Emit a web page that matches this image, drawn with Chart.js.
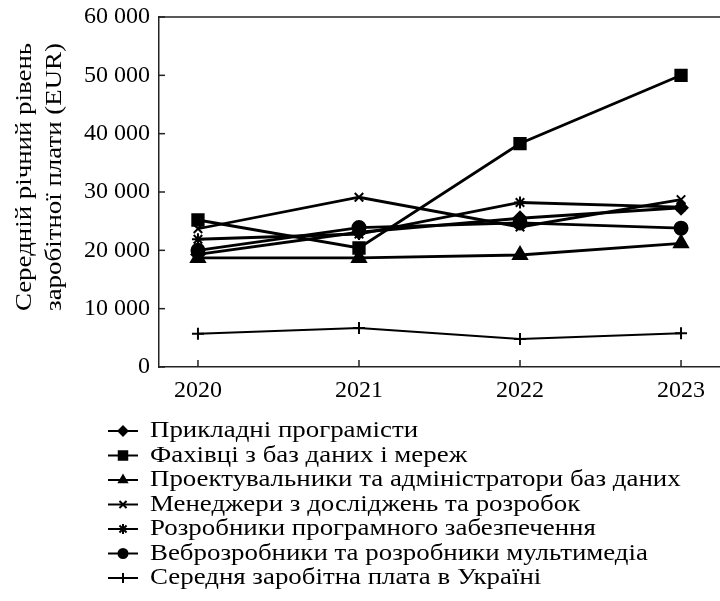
<!DOCTYPE html>
<html>
<head>
<meta charset="utf-8">
<script src="https://cdn.jsdelivr.net/npm/chart.js@4/dist/chart.umd.min.js"></script>
<style>
  html, body { margin: 0; padding: 0; background: #fff; }
  #wrap { width: 720px; height: 601px; }
</style>
</head>
<body>
<div id="wrap"><canvas id="salaryChart" width="720" height="601"></canvas></div>
<script>
// Years on the x axis
const years = [2020, 2021, 2022, 2023];

// Average annual salary, EUR
const appProgrammers = [19300, 23100, 25500, 27300];
const dbNetworkSpecialists = [25200, 20400, 38300, 50000];
const dbDesignersAdmins = [18700, 18700, 19200, 21200];
const rdManagers = [23700, 29100, 24000, 28700];
const softwareDevelopers = [21900, 22800, 28200, 27400];
const webMultimediaDevelopers = [20000, 23900, 24700, 23800];
const avgSalaryUkraine = [5700, 6700, 4800, 5800];

const seriesLabels = [
  'Прикладні програмісти',
  'Фахівці з баз даних і мереж',
  'Проектувальники та адміністратори баз даних',
  'Менеджери з досліджень та розробок',
  'Розробники програмного забезпечення',
  'Веброзробники та розробники мультимедіа',
  'Середня заробітна плата в Україні'
];

// Y axis ticks and title
const yTicks = [0, 10000, 20000, 30000, 40000, 50000, 60000];
const yTitleLines = ['Середній річний рівень', 'заробітної плати (EUR)'];

const FONT = '"Liberation Serif", "DejaVu Serif", serif';
const INK = '#000';
const TEXT_STRETCH = 1.12; // the original serif is wider than Liberation Serif

const toPoints = (values) => values.map((v, i) => ({ x: years[i], y: v }));

// Builds one black line dataset with a given marker
const makeSeries = (label, values, pointStyle, radius, lineWidth = 2.8) => ({
  label,
  data: toPoints(values),
  borderColor: INK,
  backgroundColor: INK,
  borderWidth: lineWidth,
  pointStyle,
  pointRadius: radius,
  pointBorderWidth: 2,
  pointBorderColor: INK,
  pointBackgroundColor: INK,
  tension: 0,
  fill: false
});

const datasets = [
  makeSeries(seriesLabels[0], appProgrammers, 'rectRot', 6.5),
  makeSeries(seriesLabels[1], dbNetworkSpecialists, 'rect', 8),
  makeSeries(seriesLabels[2], dbDesignersAdmins, 'triangle', 8),
  makeSeries(seriesLabels[3], rdManagers, 'crossRot', 6),
  makeSeries(seriesLabels[4], softwareDevelopers, 'star', 6),
  makeSeries(seriesLabels[5], webMultimediaDevelopers, 'circle', 6.5),
  makeSeries(seriesLabels[6], avgSalaryUkraine, 'cross', 6, 2)
];

// Draws text stretched horizontally so its width matches the original typeface
const stretchedText = (ctx, text, x, y) => {
  ctx.save();
  ctx.translate(x, y);
  ctx.scale(TEXT_STRETCH, 1);
  ctx.fillText(text, 0, 0);
  ctx.restore();
};

// Inward ticks, top frame line, rotated axis title and the stacked legend
const framePlugin = {
  id: 'frameAndLegend',
  afterDraw(chart) {
    const { ctx, chartArea, scales } = chart;
    const xs = scales.x;
    const ys = scales.y;
    ctx.save();
    ctx.strokeStyle = '#222';
    ctx.lineWidth = 1.5;

    // top frame line
    ctx.beginPath();
    ctx.moveTo(chartArea.left, chartArea.top);
    ctx.lineTo(chartArea.right, chartArea.top);
    ctx.stroke();

    // y ticks pointing into the plot
    ys.ticks.forEach((t) => {
      const py = ys.getPixelForValue(t.value);
      ctx.beginPath();
      ctx.moveTo(chartArea.left, py);
      ctx.lineTo(chartArea.left + 6, py);
      ctx.stroke();
    });

    // x ticks pointing into the plot
    years.forEach((yr) => {
      const px = xs.getPixelForValue(yr);
      ctx.beginPath();
      ctx.moveTo(px, chartArea.bottom);
      ctx.lineTo(px, chartArea.bottom - 7);
      ctx.stroke();
    });

    // y axis title, two rotated lines
    ctx.fillStyle = INK;
    ctx.font = `24px ${FONT}`;
    ctx.textAlign = 'center';
    ctx.textBaseline = 'middle';
    const midY = 177;
    [25, 55].forEach((lx, i) => {
      ctx.save();
      ctx.translate(lx, midY);
      ctx.rotate(-Math.PI / 2);
      stretchedText(ctx, yTitleLines[i], 0, 0);
      ctx.restore();
    });

    // legend: one entry per row under the plot
    const rowTop = 431;
    const rowStep = 24.5;
    chart.data.datasets.forEach((ds, i) => {
      const cy = rowTop + i * rowStep;
      ctx.strokeStyle = INK;
      ctx.lineWidth = 2;
      ctx.beginPath();
      ctx.moveTo(108, cy);
      ctx.lineTo(138, cy);
      ctx.stroke();
      ctx.fillStyle = INK;
      const thin = ['cross', 'crossRot', 'star'].includes(ds.pointStyle);
      Chart.helpers.drawPoint(ctx, {
        pointStyle: ds.pointStyle,
        radius: thin ? 5 : (ds.pointStyle === 'rect' ? 6 : 4.5),
        rotation: 0,
        borderWidth: 1.5
      }, 123, cy);
      ctx.textAlign = 'left';
      ctx.textBaseline = 'middle';
      ctx.font = `24px ${FONT}`;
      stretchedText(ctx, ds.label, 150, cy);
    });
    ctx.restore();
  }
};

const ctx = document.getElementById('salaryChart').getContext('2d');
const salaryChart = new Chart(ctx, {
  type: 'line',
  data: { datasets },
  options: {
    responsive: false,
    animation: false,
    devicePixelRatio: 1,
    layout: {
      autoPadding: false,
      padding: { top: 17, right: 0, bottom: 194, left: 0 }
    },
    plugins: {
      legend: { display: false },
      tooltip: { enabled: false },
      title: { display: false }
    },
    scales: {
      x: {
        type: 'linear',
        min: 2019.758,
        max: 2023.242,
        afterBuildTicks: (scale) => { scale.ticks = years.map((v) => ({ value: v })); },
        afterFit: (scale) => {
          scale.height = 40;
          scale.paddingLeft = 0;
          scale.paddingRight = 0;
        },
        grid: { display: true, drawOnChartArea: false, drawTicks: false },
        border: { display: true, color: '#222', width: 1.5 },
        ticks: {
          padding: 9,
          color: INK,
          font: { family: FONT, size: 24 },
          maxRotation: 0,
          callback: (v) => String(v)
        }
      },
      y: {
        min: 0,
        max: 60000,
        afterBuildTicks: (scale) => { scale.ticks = yTicks.map((v) => ({ value: v })); },
        afterFit: (scale) => {
          scale.width = 159;
          scale.paddingTop = 0;
          scale.paddingBottom = 0;
        },
        grid: { display: true, drawOnChartArea: false, drawTicks: false },
        border: { display: true, color: '#222', width: 1.5 },
        ticks: {
          padding: 9,
          color: INK,
          font: { family: FONT, size: 24 },
          callback: (v) => String(v).replace(/\B(?=(\d{3})+(?!\d))/g, ' ')
        }
      }
    }
  },
  plugins: [framePlugin]
});
</script>
</body>
</html>
